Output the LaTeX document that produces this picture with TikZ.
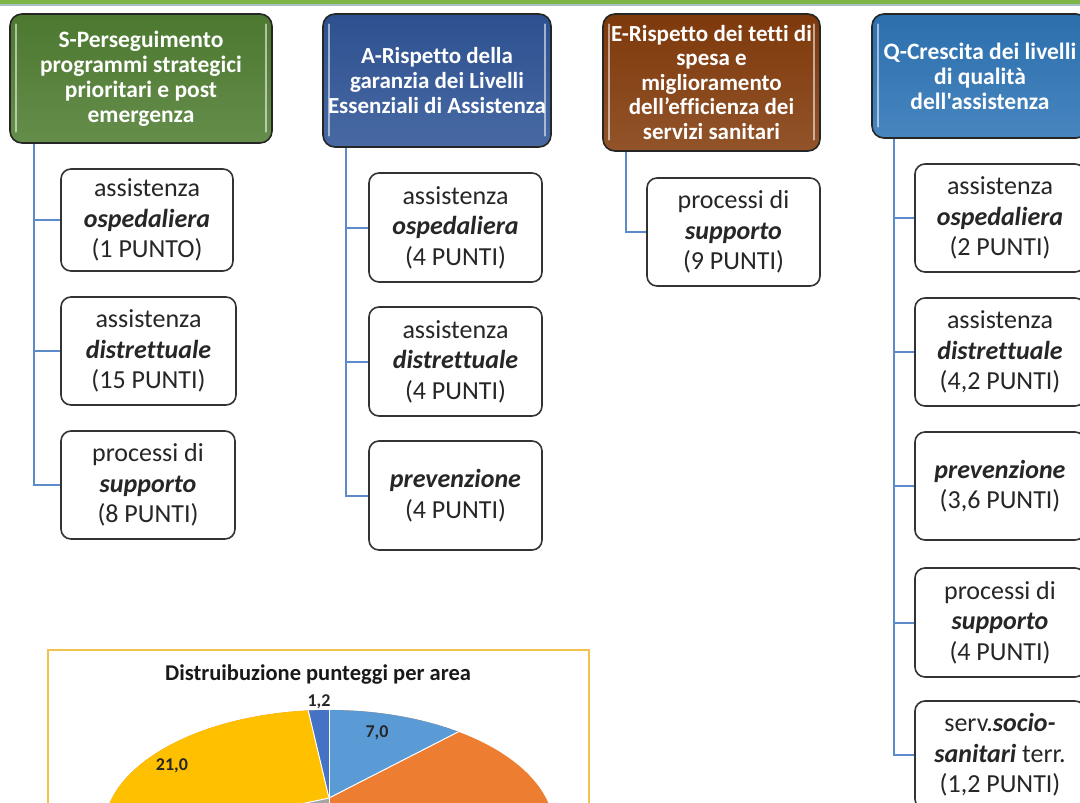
\documentclass[tikz,border=0pt]{standalone}
\usepackage{fontspec}
\setmainfont{Carlito}[Ligatures={NoCommon}]
\newfontfamily\carl{Carlito}[Ligatures={NoCommon}]
\definecolor{hdrS}{HTML}{507E32}
\definecolor{hdrA}{HTML}{2F5597}
\definecolor{hdrE}{HTML}{843C0C}
\definecolor{hdrQ}{HTML}{2E75B6}
\definecolor{connc}{HTML}{5B8BC9}
\definecolor{bandG}{HTML}{7DB446}
\definecolor{bandL}{HTML}{A8BFC8}
\definecolor{frameC}{HTML}{F2C24F}
\definecolor{pieLB}{HTML}{5B9BD5}
\definecolor{pieO}{HTML}{ED7D31}
\definecolor{pieG}{HTML}{A5A5A5}
\definecolor{pieY}{HTML}{FFC000}
\definecolor{pieDB}{HTML}{4472C4}
\newcommand\bitx[1]{\textbf{\textit{#1}}}
\begin{document}
\begin{tikzpicture}[x=1pt,y=-1pt,
  hdr/.style={rectangle, rounded corners=12pt, draw=black!85, line width=1.6pt,
    text=white, font=\fontsize{23.5}{25}\selectfont\bfseries, align=center, inner sep=0pt},
  hl/.style={white, opacity=0.55, line width=1.6pt, line cap=round},
  child/.style={rectangle, rounded corners=10pt, draw=black!80, line width=1.6pt,
    fill=white, text=black!85, font=\fontsize{26}{30.5}\selectfont, align=center, inner sep=0pt},
  conn/.style={draw=connc, line width=2pt},
  pl/.style={font=\fontsize{18}{20}\selectfont\bfseries, text=black!85, inner sep=0pt},
  sep/.style={draw=white, line width=1pt}
]
\useasboundingbox (0,0) rectangle (1080,803);
\clip (0,0) rectangle (1080,803);
\fill[white] (0,0) rectangle (1080,803);

% top band
\fill[bandG] (0,0) rectangle (1080,4);
\draw[bandL, line width=1.2pt] (0,5) -- (1080,5);

% headers
\node[hdr, top color=hdrS!95!black, bottom color=hdrS!88!white, minimum width=262, minimum height=129] (S) at (141,78.5)
  {S-Perseguimento\\programmi strategici\\prioritari e post\\emergenza};
\node[hdr, font=\fontsize{23}{25}\selectfont\bfseries, top color=hdrA!95!black, bottom color=hdrA!88!white, minimum width=228, minimum height=133] (A) at (437,80.5)
  {A-Rispetto della\\garanzia dei Livelli\\Essenziali di Assistenza};
\node[hdr, font=\fontsize{23}{24.5}\selectfont\bfseries, top color=hdrE!95!black, bottom color=hdrE!88!white, minimum width=217, minimum height=137] (E) at (711.5,82.5)
  {E-Rispetto dei tetti di\\spesa e\\miglioramento\\dell’efficienza dei\\servizi sanitari};
\node[hdr, top color=hdrQ!95!black, bottom color=hdrQ!88!white, minimum width=216, minimum height=124] (Q) at (980,76)
  {Q-Crescita dei livelli\\di qualità\\{\carl dell'assistenza}};

\foreach \h in {S,A,E,Q}{
  \draw[hl] ([xshift=7pt,yshift=-11pt]\h.north west) -- ([xshift=7pt,yshift=12pt]\h.south west);
  \draw[hl] ([xshift=-7pt,yshift=-11pt]\h.north east) -- ([xshift=-7pt,yshift=12pt]\h.south east);
}

% S children
\node[child, minimum width=172, minimum height=102] (S1) at (147,220) {assistenza\\\bitx{ospedaliera}\\(1 PUNTO)};
\node[child, minimum width=175, minimum height=108] (S2) at (148.5,351) {assistenza\\\bitx{distrettuale}\\(15 PUNTI)};
\node[child, minimum width=174, minimum height=108] (S3) at (148,485) {processi di\\\bitx{supporto}\\(8 PUNTI)};
% A children
\node[child, minimum width=173, minimum height=109] (A1) at (455.5,227.5) {assistenza\\\bitx{ospedaliera}\\(4 PUNTI)};
\node[child, minimum width=173, minimum height=109] (A2) at (455.5,361.5) {assistenza\\\bitx{distrettuale}\\(4 PUNTI)};
\node[child, minimum width=173, minimum height=109] (A3) at (455.5,495.5) {\bitx{prevenzione}\\(4 PUNTI)};
% E child
\node[child, minimum width=173, minimum height=108] (E1) at (733.5,232) {processi di\\\bitx{supporto}\\(9 PUNTI)};
% Q children
\node[child, minimum width=170, minimum height=108] (Q1) at (1000,218) {assistenza\\\bitx{ospedaliera}\\(2 PUNTI)};
\node[child, minimum width=170, minimum height=108] (Q2) at (1000,352) {assistenza\\\bitx{distrettuale}\\(4,2 PUNTI)};
\node[child, minimum width=170, minimum height=108] (Q3) at (1000,486) {\bitx{prevenzione}\\(3,6 PUNTI)};
\node[child, minimum width=170, minimum height=109] (Q4) at (1000,622.5) {processi di\\\bitx{supporto}\\(4 PUNTI)};
\node[child, minimum width=170, minimum height=108] (Q5) at (1000,755) {serv.\bitx{socio-}\\\bitx{sanitari} terr.\\(1,2 PUNTI)};

% connectors
\foreach \c in {S1,S2,S3}{\draw[conn] ([xshift=25pt]S.south west) |- (\c.west);}
\foreach \c in {A1,A2,A3}{\draw[conn] ([xshift=24pt]A.south west) |- (\c.west);}
\draw[conn] ([xshift=24pt]E.south west) |- (E1.west);
\foreach \c in {Q1,Q2,Q3,Q4,Q5}{\draw[conn] ([xshift=23pt]Q.south west) |- (\c.west);}

% chart
\draw[frameC, line width=1.2pt] (48,650) rectangle (589,815);
\node[font=\fontsize{22.5}{26}\selectfont\bfseries, text=black!90] (title) at (318,675) {Distruibuzione punteggi per area};
\begin{scope}
  \clip (329,830) ellipse [x radius=225, y radius=120];
  \fill[pieO] (0,600) rectangle (1080,1000);
  \fill[pieLB] (329,798) -- (329,600) -- (716,600) -- cycle;
  \fill[pieDB] (329,798) -- (329,600) -- (282,600) -- cycle;
  \fill[pieY] (329,798) -- (282,600) -- (0,600) -- (0,868) -- cycle;
  \fill[pieG] (329,798) -- (0,868) -- (0,1000) -- (329,1000) -- cycle;
  \draw[sep] (329,798) -- (329,600);
  \draw[sep] (329,798) -- (716,600);
  \draw[sep] (329,798) -- (282,600);
  \draw[sep] (329,798) -- (0,868);
  \draw[sep] (329,798) -- (329,1000);
\end{scope}
\node[pl] (l12) at (319,702) {1,2};
\node[pl] (l70) at (377,733) {7,0};
\node[pl] (l21) at (172,766) {21,0};
\end{tikzpicture}
\end{document}
